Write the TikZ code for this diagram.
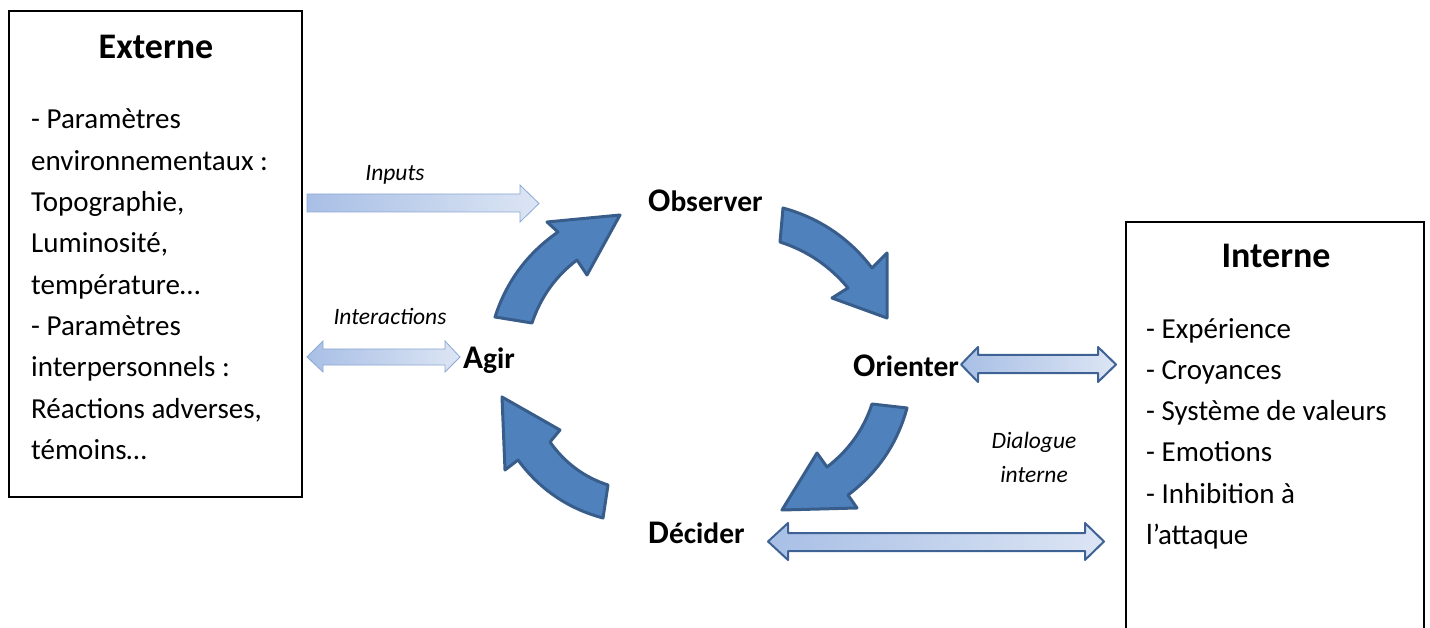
\documentclass[tikz,border=0pt]{standalone}
\usepackage{fontspec}
\setmainfont{Carlito}
\definecolor{cyc}{RGB}{79,129,189}
\definecolor{cycb}{RGB}{56,93,138}
\definecolor{gradL}{RGB}{168,191,229}
\definecolor{gradR}{RGB}{220,229,244}
\definecolor{lightb}{RGB}{140,168,212}
\definecolor{darkb}{RGB}{62,98,148}
\begin{document}
\begin{tikzpicture}[x=1pt,y=-1pt,
  body/.style={anchor=base west,inner sep=0pt,font=\fontsize{29}{41.3}\selectfont},
  title/.style={anchor=base,inner sep=0pt,font=\fontsize{36}{40}\selectfont\bfseries},
  lab/.style={anchor=base,inner sep=0pt,font=\fontsize{23.5}{27}\selectfont\itshape},
  phase/.style={anchor=base west,inner sep=0pt,font=\fontsize{29.5}{33}\selectfont\bfseries},
  cycarrow/.style={fill=cyc,draw=cycb,line width=3pt,line join=round},
  lightarrow/.style={left color=gradL,right color=gradR,draw=lightb,line width=0.8pt},
  darkarrow/.style={left color=gradL,right color=gradR,draw=darkb,line width=2pt,line join=round},
  boxline/.style={draw=black,line width=1.3pt}]
\useasboundingbox (0,0) rectangle (1430,628);

% Externe box
\draw[boxline] (9,11) rectangle (302,497);
\node[title] (ext) at (156,59) {Externe};
\node[body] (e1) at (31,129) {- Paramètres};
\node[body] (e2) at (31,170.3) {environnementaux :};
\node[body] (e3) at (31,211.6) {Topographie,};
\node[body] (e4) at (31,252.9) {Luminosité,};
\node[body] (e5) at (31,294.2) {température…};
\node[body] (e6) at (31,335.5) {- Paramètres};
\node[body] (e7) at (31,376.8) {interpersonnels :};
\node[body] (e8) at (31,418.1) {Réactions adverses,};
\node[body] (e9) at (31,459.4) {témoins…};

% Interne box (open at bottom)
\draw[boxline] (1126,640) -- (1126,222) -- (1424,222) -- (1424,640);
\node[title] (int) at (1276,268) {Interne};
\node[body] (i1) at (1146,338) {- Expérience};
\node[body] (i2) at (1146,379.3) {- Croyances};
\node[body] (i3) at (1146,420.6) {- Système de valeurs};
\node[body] (i4) at (1146,461.9) {- Emotions};
\node[body] (i5) at (1146,503.2) {- Inhibition à};
\node[body] (i6) at (1146,544.5) {l’attaque};

% phase labels
\node[phase] (obs) at (648,212) {{\fontsize{33}{36}\selectfont O}bserver};
\node[phase] (ori) at (853,377) {{\fontsize{33}{36}\selectfont O}rienter};
\node[phase] (dec) at (648,543) {{\fontsize{33}{36}\selectfont D}écider};
\node[phase] (agi) at (463,368) {{\fontsize{33}{36}\selectfont A}gir};

% small labels
\node[lab] (inp) at (395,181) {Inputs};
\node[lab] (inter) at (390,325) {Interactions};
\node[lab] (dia1) at (1034,448) {Dialogue};
\node[lab] (dia2) at (1034,482) {interne};

% Inputs arrow
\draw[lightarrow] (307,194) -- (520,194) -- (520,185) -- (539,203.5) -- (520,222) -- (520,212) -- (307,212) -- cycle;
% Interactions double arrow
\draw[lightarrow] (307,357) -- (323,341) -- (323,349) -- (445,349) -- (445,341) -- (460,357) -- (445,372) -- (445,365) -- (323,365) -- (323,372) -- cycle;
% Orienter double arrow
\draw[darkarrow] (961,364.5) -- (978,347) -- (978,355) -- (1098,355) -- (1098,347) -- (1116,364.5) -- (1098,382) -- (1098,373) -- (978,373) -- (978,382) -- cycle;
% Decider double arrow
\draw[darkarrow] (768,541.5) -- (788,523) -- (788,533) -- (1085,533) -- (1085,523) -- (1104,541.5) -- (1085,560) -- (1085,551) -- (788,551) -- (788,560) -- cycle;

% cycle arrows
% Agir -> Observer
\draw[cycarrow] (495,317) .. controls (506.4,281.6) and (527.4,253.2) .. (558,232) -- (547,222) -- (620,215) -- (587,275) -- (577,260) .. controls (555.6,276.2) and (540.6,297.2) .. (532,323) -- cycle;
% Observer -> Orienter
\draw[cycarrow] (783,208) .. controls (819.4,218) and (849,238) .. (872,268) -- (887,253) -- (887,318) -- (832,298) -- (848,288) .. controls (829.8,266.1) and (807.2,250.7) .. (780,242) -- cycle;
% Orienter -> Decider
\draw[cycarrow] (907,408) .. controls (897.3,443.7) and (877.7,472.7) .. (848,495) -- (857,508) -- (782,510) -- (817,453) -- (827,467) .. controls (848.6,450.5) and (863.6,429.5) .. (872,404) -- cycle;
% Decider -> Agir
\draw[cycarrow] (603,518) .. controls (567.9,508.6) and (539.5,489.2) .. (518,460) -- (505,470) -- (502,397) -- (560,430) -- (550,442) .. controls (564.8,462.9) and (584.2,477.3) .. (608,485) -- cycle;
\end{tikzpicture}
\end{document}
